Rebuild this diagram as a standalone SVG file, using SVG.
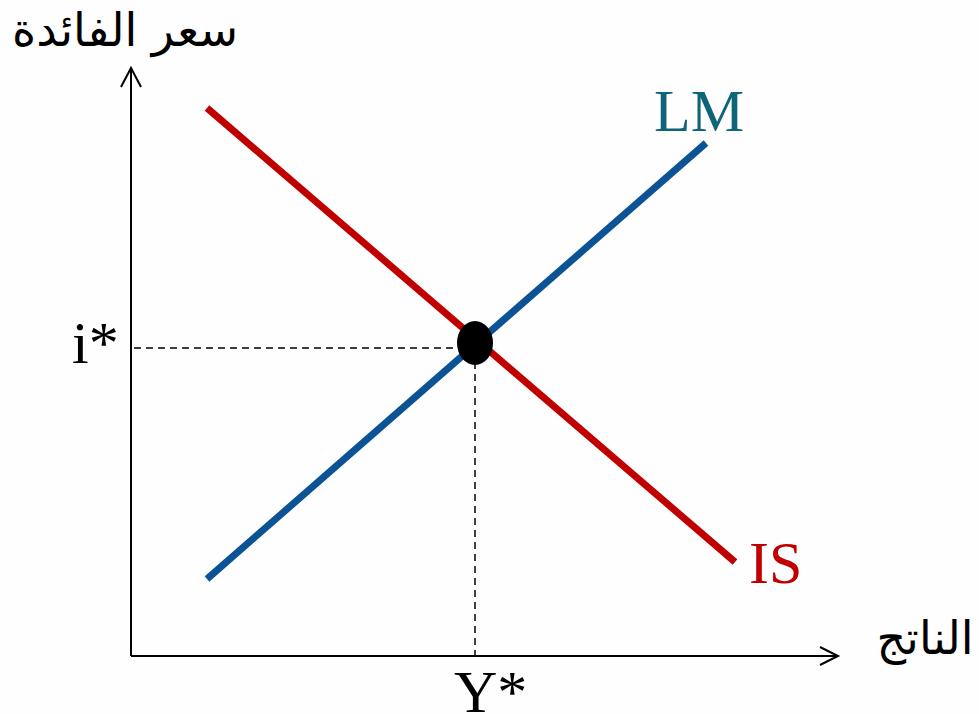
<svg xmlns="http://www.w3.org/2000/svg" width="979" height="714" viewBox="0 0 979 714">
<style>
.axis{stroke:#000;stroke-width:2;fill:none}
.dash{stroke:#000;stroke-width:1.5;stroke-dasharray:7 5;fill:none}
.lbl{font-family:"Liberation Serif","Times New Roman",serif;font-size:60px}
.ar{font-family:"DejaVu Sans","Noto Sans",sans-serif;font-size:46px;fill:#000}
</style>
<rect width="979" height="714" fill="#fefefe"/>
<g id="connectors">
<path class="axis" d="M131,656 V70 M121,87 L131,68 L141,87"/>
<path class="axis" d="M131,656 H837 M820,647 L838,656 L820,665"/>
<path class="dash" d="M134,348 H462"/>
<path class="dash" d="M475,362 V655"/>
</g>
<g id="IS">
<line x1="207" y1="108" x2="735" y2="562" stroke="#C00000" stroke-width="7"/>
<text class="lbl" x="749" y="583" fill="#C00000">IS</text>
</g>
<g id="LM">
<line x1="207" y1="579" x2="706" y2="143" stroke="#0B5394" stroke-width="7"/>
<text class="lbl" x="654" y="131" fill="#0E6478">LM</text>
</g>
<g id="equilibrium">
<ellipse cx="475" cy="343" rx="18" ry="22" fill="#000"/>
</g>
<g id="labels">
<text class="lbl" x="72" y="363" fill="#000">i*</text>
<text class="lbl" x="454" y="712" fill="#000">Y*</text>
<text class="ar" x="125" y="46" text-anchor="middle" direction="rtl">سعر الفائدة</text>
<text class="ar" x="925" y="654" text-anchor="middle" direction="rtl">الناتج</text>
</g>
</svg>
